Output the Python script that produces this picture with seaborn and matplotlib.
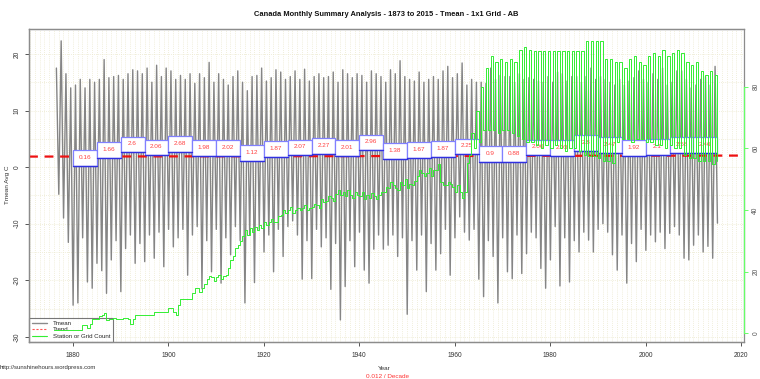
import numpy as np
import pandas as pd
import matplotlib
matplotlib.use("Agg")
import matplotlib.pyplot as plt
from matplotlib.patches import Rectangle
from matplotlib.lines import Line2D
import seaborn as sns

# ---------------- data ----------------
years = list(range(1876, 2016))

# approximate yearly summer peak / winter trough of monthly Tmean (deg C)
tmean_summer = [
    17.5, 22.3, 16.5, 14.0, 14.5, 15.5, 14.0, 15.5, 15.0, 15.5,   # 1876-1885
    19.0, 15.8, 16.0, 16.2, 15.5, 16.5, 17.2, 17.0, 16.5, 17.5,   # 1886-1895
    15.0, 18.0, 16.0, 17.5, 17.0, 15.5, 16.2, 15.5, 16.5, 14.8,   # 1896-1905
    16.5, 15.8, 18.5, 15.0, 16.5, 15.5, 14.5, 16.0, 17.0, 15.0,   # 1906-1915
    13.5, 16.0, 16.2, 17.5, 15.2, 15.8, 17.2, 16.8, 15.5, 16.0,   # 1916-1925
    17.0, 15.5, 17.3, 15.2, 16.0, 16.5, 15.8, 16.0, 16.8, 15.0,   # 1926-1935
    17.2, 16.5, 15.8, 16.5, 16.2, 15.0, 17.0, 16.5, 16.0, 15.0,   # 1936-1945
    17.2, 16.5, 18.8, 16.0, 15.5, 15.2, 16.8, 15.0, 15.5, 16.0,   # 1946-1955
    15.5, 17.0, 17.8, 15.8, 16.5, 18.4, 14.5, 15.5, 15.0, 15.0,   # 1956-1965
    14.8, 17.5, 15.5, 16.2, 16.0, 16.0, 15.0, 16.5, 15.5, 15.8,   # 1966-1975
    15.5, 15.2, 15.0, 16.0, 15.0, 16.8, 16.5, 15.2, 16.0, 16.0,   # 1976-1985
    15.0, 16.0, 17.5, 15.5, 16.0, 15.5, 15.0, 14.5, 15.5, 14.5,   # 1986-1995
    15.2, 15.8, 17.0, 15.5, 15.0, 16.5, 15.5, 17.5, 14.5, 15.0,   # 1996-2005
    17.0, 17.0, 15.5, 14.0, 14.5, 15.5, 16.0, 14.5, 17.8, np.nan, # 2006-2015
]
tmean_winter = [
    np.nan, -4.8, -9.0, -13.3, -24.4, -24.0, -12.5, -20.3, -21.4, -17.0,  # 1876-1885
    -18.3, -22.3, -16.4, -13.0, -22.0, -14.4, -12.0, -17.0, -13.5, -16.7, # 1886-1895
    -12.0, -16.1, -11.5, -17.6, -11.0, -14.1, -12.5, -11.0, -19.1, -12.0, # 1896-1905
    -10.5, -21.5, -13.0, -18.5, -11.0, -20.5, -12.5, -15.5, -10.5, -13.0, # 1906-1915
    -24.0, -12.0, -20.4, -11.0, -15.0, -12.0, -18.5, -11.0, -15.8, -10.5, # 1916-1925
    -9.5, -12.0, -19.8, -13.0, -19.7, -11.0, -14.1, -12.5, -21.6, -13.5,  # 1926-1935
    -27.0, -21.1, -13.0, -17.6, -11.5, -18.2, -20.5, -14.5, -12.0, -14.5, # 1936-1945
    -13.8, -12.0, -15.8, -12.5, -26.0, -13.0, -18.2, -12.0, -22.0, -13.5, # 1946-1955
    -18.2, -15.3, -11.0, -19.1, -12.5, -8.8, -11.5, -12.9, -11.0, -19.8,  # 1956-1965
    -22.9, -13.0, -15.8, -24.0, -12.5, -18.5, -19.7, -12.0, -18.8, -15.3, # 1966-1975
    -11.5, -12.5, -17.9, -21.4, -16.4, -10.5, -21.0, -12.5, -20.3, -13.0, # 1976-1985
    -15.0, -11.5, -12.9, -15.0, -11.0, -10.0, -11.5, -15.5, -18.2, -12.0, # 1986-1995
    -20.5, -13.5, -16.7, -11.0, -14.7, -12.0, -13.2, -11.5, -14.4, -11.7, # 1996-2005
    -10.5, -12.0, -16.1, -16.4, -13.8, -12.0, -15.0, -14.0, -16.1, -9.9,  # 2006-2015
]

# station / grid count, first and second half of each year
station_h1 = [
    1, 1, 1, 1, 1, 1, 2.6, 1.5, 4.7, 4.7,                 # 1876-1885
    5.8, 4.2, 4.7, 4.7, 4.7, 5.0, 3.1, 5.8, 5.8, 5.8,     # 1886-1895
    5.8, 6.9, 6.9, 6.9, 8.0, 7.0, 9.0, 11.2, 11.2, 13.0,  # 1896-1905
    14.5, 14.5, 17.7, 18.3, 18.3, 17.5, 19.0, 23.7, 27.5, 30.0,  # 1906-1915
    33.4, 34.0, 34.5, 35.0, 36.2, 36.2, 36.0, 38.0, 40.0, 40.0,  # 1916-1925
    39.0, 40.5, 40.5, 40.0, 41.0, 41.5, 43.7, 43.0, 44.0, 45.3,  # 1926-1935
    45.0, 44.5, 45.0, 46.0, 44.5, 43.5, 44.0, 44.5, 45.0, 46.0,  # 1936-1945
    47.0, 48.0, 46.5, 48.0, 47.0, 48.0, 51.0, 52.0, 52.0, 51.0,  # 1946-1955
    53.0, 49.0, 48.0, 48.5, 46.0, 45.7, 46.0, 58.0, 60.0, 62.0,  # 1956-1965
    66, 66, 66, 65, 66, 66, 65, 64, 63, 62,                # 1966-1975
    62, 61, 60, 61, 60, 61, 60, 59, 60, 60,                # 1976-1985
    59, 58, 57.6, 57.6, 57, 56, 56, 55.4, 62, 63,          # 1986-1995
    63, 62, 63, 63, 62, 62, 61, 61, 60, 61,                # 1996-2005
    60, 60, 58, 57, 57, 56, 56, 56, 55, 56,                # 2006-2015
]
station_h2 = [
    1, 1, 1, 1, 1, 1, 2.6, 3.0, 4.7, 5.5,                 # 1876-1885
    6.5, 4.5, 5.0, 4.7, 5.0, 4.7, 4.7, 5.8, 5.8, 5.8,     # 1886-1895
    5.8, 6.9, 6.9, 6.9, 8.0, 6.0, 11.2, 11.2, 11.2, 14.5, # 1896-1905
    13.5, 16.0, 18.5, 17.0, 19.0, 18.5, 21.0, 25.0, 28.5, 31.5,  # 1906-1915
    32.0, 33.0, 33.5, 34.0, 35.0, 37.0, 36.2, 38.5, 39.0, 41.0,  # 1916-1925
    40.0, 40.0, 41.5, 40.5, 42.0, 40.5, 42.5, 44.5, 43.0, 46.5,  # 1926-1935
    46.0, 46.6, 44.0, 45.0, 46.0, 45.0, 45.5, 43.5, 46.0, 47.5,  # 1936-1945
    49.0, 47.0, 49.0, 50.0, 48.5, 49.5, 53.0, 51.0, 53.5, 53.0,  # 1946-1955
    55.0, 48.0, 49.0, 47.5, 48.0, 44.0, 55.4, 65.0, 72.0, 80.0,  # 1956-1965
    86, 90, 88, 89, 88, 89, 88, 92, 93, 92,                # 1966-1975
    91.6, 91.6, 91.6, 91.6, 91.6, 91.6, 91.6, 91.6, 91.6, 91.6,  # 1976-1985
    91.6, 95, 95, 95, 95, 89, 89, 88, 88, 86,              # 1986-1995
    89, 90, 88, 87, 90, 91, 90, 92, 90, 91,                # 1996-2005
    92, 91, 88, 87, 88, 85, 84, 85, 84, np.nan,            # 2006-2015
]

# five-year mean boxes
box_start = list(range(1880, 2015, 5))
box_values = [0.16, 1.66, 2.6, 2.06, 2.68, 1.98, 2.02, 1.12, 1.87, 2.07,
              2.27, 2.01, 2.96, 1.38, 1.67, 1.87, 2.25, 0.9, 0.88, 2.06,
              2.03, 2.8, 2.47, 1.92, 2.1, 2.58, 2.46]

trend_intercept = 1.86      # value at 1873
trend_slope = 0.012 / 10    # per year

# ---------------- build long tables ----------------
yrs = np.array(years, dtype=float)
tm = pd.DataFrame({
    "x": np.ravel(np.column_stack([yrs + 0.04, yrs + 0.54])),
    "y": np.ravel(np.column_stack([tmean_winter, tmean_summer])),
}).dropna()
st = pd.DataFrame({
    "x": np.ravel(np.column_stack([yrs, yrs + 0.5])),
    "y": np.ravel(np.column_stack([station_h1, station_h2])),
}).dropna()

# ---------------- figure ----------------
sns.set_theme(style="white")
plt.rcParams["font.family"] = ["Liberation Sans", "DejaVu Sans"]
plt.rcParams["axes.unicode_minus"] = False

fig = plt.figure(figsize=(7.6, 3.79), dpi=100)
ax = fig.add_axes([29 / 760, 1 - 342 / 379, (744 - 29) / 760, (342 - 29) / 379])
ax2 = ax.twinx()

xmin, xmax = 1870.8, 2020.6
ax.set_xlim(xmin, xmax)
ax.set_ylim(-30.9, 24.4)
ax2.set_ylim(-2.9, 98.8)

# grid
grid_c = "#ece9cf"
for yr in range(1871, 2021):
    ax.axvline(yr, color=grid_c, lw=0.6, ls=(0, (1, 1.5)), zorder=0)
for v in range(-30, 25, 5):
    ax.axhline(v, color=grid_c, lw=0.6, ls=(0, (1, 1.5)), zorder=0)

# Tmean
sns.lineplot(data=tm, x="x", y="y", ax=ax, color="#858585", lw=1.0,
             estimator=None, sort=False, zorder=2, label="_nolegend_")

# trend line across the plot
tx = np.array([xmin, xmax])
ty = trend_intercept + trend_slope * (tx - 1873)
ax.plot(tx, ty, color="#ee1111", lw=1.6, ls=(0, (4, 3)), zorder=3)

# five-year boxes
for s, v in zip(box_start, box_values):
    ax.add_patch(Rectangle((s, v), 5, 2.8, facecolor="white",
                           edgecolor="#8080ff", lw=0.9, zorder=4))
    ax.plot([s, s + 5], [v, v], color="#3030e0", lw=1.0, zorder=4.5)
    ax.text(s + 2.5, v + 1.5, f"{v:g}", color="#ff4040", fontsize=4.6,
            ha="center", va="center", zorder=4.6)

# station count on the right axis
sns.lineplot(data=st, x="x", y="y", ax=ax2, color="#33ee33", lw=0.7,
             estimator=None, sort=False, drawstyle="steps-post", zorder=5,
             label="_nolegend_")

# axes styling (R-like)
for a in (ax, ax2):
    a.set_xlabel("")
    a.set_ylabel("")
    for sp in a.spines.values():
        sp.set_color("#8c8c8c")
        sp.set_linewidth(0.9)
ax2.spines["right"].set_color("#66ff66")
ax2.spines["right"].set_bounds(0, 80)

ax.set_xticks(range(1880, 2021, 20))
ax.set_yticks(range(-30, 21, 10))
ax.tick_params(axis="x", direction="out", length=3, width=0.7, colors="#555555",
               labelsize=4.8, pad=4, labelcolor="#333333", bottom=True)
ax.tick_params(axis="y", direction="out", length=3, width=0.7, colors="#555555",
               labelsize=4.8, pad=3, labelcolor="#333333", left=True)
for lbl in ax.get_yticklabels():
    lbl.set_rotation(90)
    lbl.set_va("center")

ax2.set_yticks(range(0, 81, 20))
ax2.tick_params(axis="y", direction="out", length=3, width=0.7, colors="#66ff66",
                labelsize=4.8, pad=3, labelcolor="#555555", right=True)
for lbl in ax2.get_yticklabels():
    lbl.set_rotation(90)
    lbl.set_va("center")

# legend (drawn beneath the data lines)
handles = [Line2D([], [], color="#8a8a8a", lw=1.0),
           Line2D([], [], color="#ff5555", lw=0.8, ls=(0, (2, 1.5))),
           Line2D([], [], color="#33ee33", lw=0.8)]
leg = ax.legend(handles, ["Tmean", "Trend", "Station or Grid Count"],
                loc="lower left", bbox_to_anchor=(0, 0), fontsize=4.4,
                frameon=True, fancybox=False, borderpad=0.5, labelspacing=0.2,
                handlelength=2.4, handletextpad=1.0, borderaxespad=0)
leg.get_frame().set_edgecolor("#555555")
leg.get_frame().set_linewidth(0.8)
leg.set_zorder(1.5)

# texts
fig.text(386 / 760, 1 - 15 / 379, "Canada Monthly Summary Analysis - 1873 to 2015 - Tmean - 1x1 Grid - AB",
         ha="center", va="center", fontsize=5.4, fontweight="bold", color="#111111")
fig.text(8 / 760, 1 - 185 / 379, "Tmean Avg C", rotation=90, ha="center", va="center",
         fontsize=4.6, color="#333333")
fig.text(384 / 760, 1 - 368 / 379, "Year", ha="center", va="center", fontsize=4.6, color="#333333")
fig.text(387 / 760, 1 - 376 / 379, "0.012 / Decade", ha="center", va="center",
         fontsize=4.6, color="#ff3333")
fig.text(0.0, 1 - 368 / 379, "http://sunshinehours.wordpress.com", ha="left", va="center",
         fontsize=4.3, color="#333333")

fig.savefig("out.png", dpi=100)
